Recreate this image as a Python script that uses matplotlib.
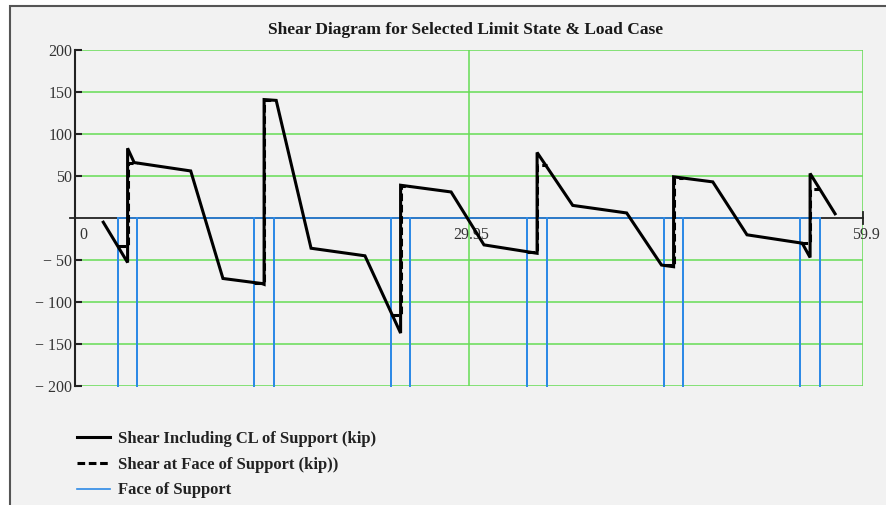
import numpy as np
import matplotlib.pyplot as plt
from matplotlib.lines import Line2D

plt.rcParams['font.family'] = ['Liberation Serif', 'DejaVu Serif']

# support centerlines (ft) and half width of each support
supports = [4.0, 14.38, 24.76, 35.14, 45.52, 55.9]
half_width = 0.75
span_end = 59.9

# shear including CL of support (kip), with the jump at each centerline
shear_x = [2.15, 4.0, 4.0, 4.5, 8.8, 11.25, 14.2, 14.38, 14.38, 15.3, 17.95,
           22.05, 24.76, 24.76, 28.6, 31.1, 35.14, 35.14, 37.85, 41.95, 44.6,
           45.52, 45.52, 48.5, 51.1, 55.3, 55.9, 55.9, 57.8]
shear_v = [-5, -53, 83, 66, 56, -72, -78, -79, 141, 140, -36,
           -45, -137, 39, 31, -32, -42, 78, 15, 6, -56,
           -58, 49, 43, -20, -30, -47, 53, 5]

# shear at the left / right face of each support (kip)
face_left_v = [-33, -77.5, -115, -40, -56.5, -30]
face_right_v = [65, 140.7, 38.5, 63, 48, 34]

y_ticks = [-200, -150, -100, -50, 50, 100, 150, 200]
y_labels = ['\u2212 200', '\u2212 150', '\u2212 100', '\u2212 50', '50', '100', '150', '200']
x_marks = [0, 29.95, span_end]
x_labels = ['0', '29.95', '59.9']

bg = '#f2f2f2'
green = '#66dd55'
blue = '#2e8ae6'

# dashed trace: face value carried to the centerline on each side
dash_x, dash_y = [], []
for c, vl, vr in zip(supports, face_left_v, face_right_v):
    dash_x += [c - half_width, c, c, c + half_width, np.nan]
    dash_y += [vl, vl, vr, vr, np.nan]

# face of support trace: drops to the bottom of the plot at every face
face_x, face_y = [], []
for c in supports:
    for f in (c - half_width, c + half_width):
        face_x += [f, f, f]
        face_y += [0, -200, 0]

fig = plt.figure(figsize=(8.86, 5.05), dpi=100)
fig.patch.set_facecolor('white')
fig.add_artist(plt.Rectangle((10 / 886, -0.05), 1.0, 1.05 - 6 / 505, transform=fig.transFigure,
                             facecolor=bg, edgecolor='#555555', lw=1.5, zorder=-10))

ax = fig.add_axes([75 / 886, 1 - 386 / 505, 787.7 / 886, 336 / 505])
ax.set_facecolor(bg)
ax.set_xlim(0, span_end)
ax.set_ylim(-200, 200)

for s in ['top', 'right', 'bottom']:
    ax.spines[s].set_visible(False)
ax.spines['left'].set_color('#222222')
ax.spines['left'].set_linewidth(1.5)

ax.set_yticks(y_ticks)
ax.set_yticklabels(y_labels, fontsize=11.5, color='#333333')
ax.tick_params(axis='y', direction='in', length=5, width=1.5, color='#222222', pad=2)
ax.set_xticks([29.95, span_end])
ax.set_xticklabels([])
ax.tick_params(axis='x', length=0)
ax.grid(True, color=green, lw=1.1)
ax.set_axisbelow(True)

# x axis through zero with end tick
ax.plot([-0.4, span_end], [0, 0], color='#222222', lw=1.3, clip_on=False, zorder=2)
ax.plot([span_end, span_end], [-7, 7], color='#222222', lw=1.3, clip_on=False, zorder=2)
offsets = [8.5, 2, 3]
for xv, lab, dx in zip(x_marks, x_labels, offsets):
    ax.annotate(lab, (xv, 0), xytext=(dx, -17), textcoords='offset pixels',
                ha='center', va='center', fontsize=11.5, color='#333333')

l3, = ax.plot(face_x, face_y, color=blue, lw=1.2, zorder=3, clip_on=False)
l1, = ax.plot(shear_x, shear_v, color='black', lw=2.2, zorder=4, solid_joinstyle='miter')
l2, = ax.plot(dash_x, dash_y, color='black', lw=2.2, ls=(0, (2.5, 1.2)), zorder=5)

fig.text(466 / 886, 1 - 30 / 505, 'Shear Diagram for Selected Limit State & Load Case',
         ha='center', va='center', fontsize=12.5, fontweight='bold', color='#1a1a1a')

handles = [Line2D([], [], color='black', lw=2.2),
           Line2D([], [], color='black', lw=2.2, ls=(0, (2.5, 1.2))),
           Line2D([], [], color=blue, lw=1.2)]
labels = ['Shear Including CL of Support (kip)', 'Shear at Face of Support (kip))', 'Face of Support']
leg = fig.legend(handles, labels, loc='upper left', bbox_to_anchor=(77 / 886, 1 - 431 / 505),
                 frameon=False, borderpad=0, borderaxespad=0, handlelength=2.0,
                 handletextpad=0.45, labelspacing=0.58,
                 prop={'family': 'Liberation Serif', 'weight': 'bold', 'size': 12})
for t in leg.get_texts():
    t.set_color('#222222')

fig.savefig('out.png', dpi=100, facecolor=fig.get_facecolor())
